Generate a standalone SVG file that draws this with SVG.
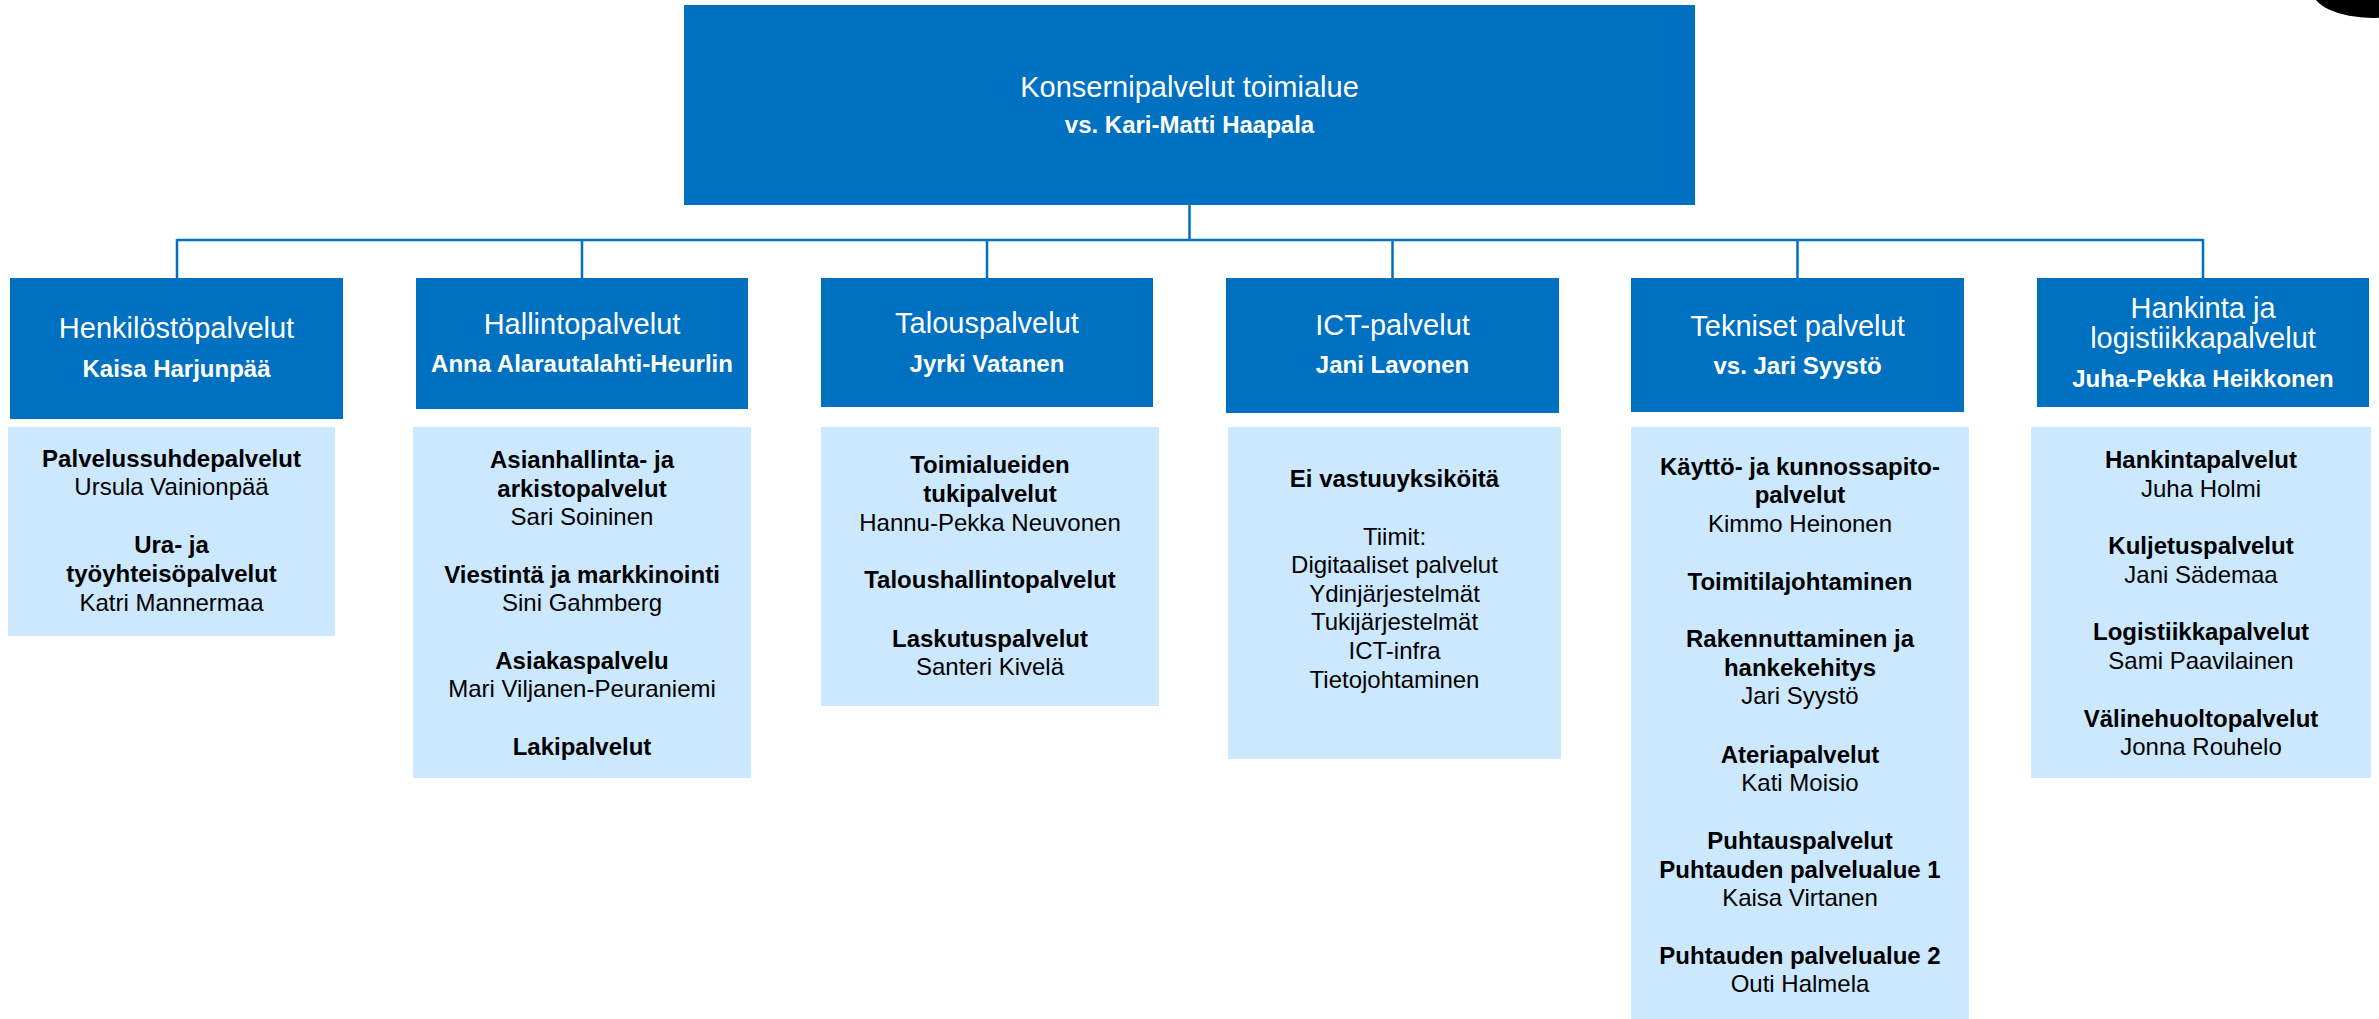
<svg xmlns="http://www.w3.org/2000/svg" width="2379" height="1019" viewBox="0 0 2379 1019">
<style>
text{font-family:"Liberation Sans",Arial,sans-serif;text-anchor:middle}
.dark{fill:#0070C0}
.light{fill:#CCE8FE}
.t{font-size:29px;fill:#fff}
.n{font-size:24px;font-weight:bold;fill:#fff}
.b{font-size:24px;font-weight:bold;fill:#000}
.r{font-size:24px;fill:#000}
.conn{stroke:#0070C0;stroke-width:2.5;fill:none}
</style>
<rect width="2379" height="1019" fill="#fff"/>
<ellipse cx="2372" cy="-10" rx="60" ry="28" fill="#000"/>
<g id="connectors">
<path class="conn" d="M1189.5 205V240M177 240H2203M177 239V278M582 239V278M987 239V278M1392.5 239V278M1797.5 239V278M2203 239V278"/>
</g>
<g id="top">
<rect class="dark" x="684" y="5" width="1011" height="200"/>
<text class="t" x="1189.5" y="97">Konsernipalvelut toimialue</text>
<text class="n" x="1189.5" y="133">vs. Kari-Matti Haapala</text>
</g>
<g id="henkilosto">
<rect class="dark" x="10" y="278" width="333" height="141"/>
<text class="t" x="176.5" y="338">Henkilöstöpalvelut</text>
<text class="n" x="176.5" y="377">Kaisa Harjunpää</text>
</g>
<g id="henkilosto-units">
<rect class="light" x="8" y="427" width="327" height="209"/>
<text x="171.5"><tspan class="b" x="171.5" y="467">Palvelussuhdepalvelut</tspan><tspan class="r" x="171.5" y="495">Ursula Vainionpää</tspan><tspan class="b" x="171.5" y="553">Ura- ja</tspan><tspan class="b" x="171.5" y="582">työyhteisöpalvelut</tspan><tspan class="r" x="171.5" y="611">Katri Mannermaa</tspan></text>
</g>
<g id="hallinto">
<rect class="dark" x="416" y="278" width="332" height="131"/>
<text class="t" x="582" y="334">Hallintopalvelut</text>
<text class="n" x="582" y="372">Anna Alarautalahti-Heurlin</text>
</g>
<g id="hallinto-units">
<rect class="light" x="413" y="427" width="338" height="351"/>
<text x="582"><tspan class="b" x="582" y="468">Asianhallinta- ja</tspan><tspan class="b" x="582" y="497">arkistopalvelut</tspan><tspan class="r" x="582" y="525">Sari Soininen</tspan><tspan class="b" x="582" y="583">Viestintä ja markkinointi</tspan><tspan class="r" x="582" y="611">Sini Gahmberg</tspan><tspan class="b" x="582" y="669">Asiakaspalvelu</tspan><tspan class="r" x="582" y="697">Mari Viljanen-Peuraniemi</tspan><tspan class="b" x="582" y="755">Lakipalvelut</tspan></text>
</g>
<g id="talous">
<rect class="dark" x="821" y="278" width="332" height="129"/>
<text class="t" x="987" y="333">Talouspalvelut</text>
<text class="n" x="987" y="372">Jyrki Vatanen</text>
</g>
<g id="talous-units">
<rect class="light" x="821" y="427" width="338" height="279"/>
<text x="990"><tspan class="b" x="990" y="473">Toimialueiden</tspan><tspan class="b" x="990" y="502">tukipalvelut</tspan><tspan class="r" x="990" y="531">Hannu-Pekka Neuvonen</tspan><tspan class="b" x="990" y="588">Taloushallintopalvelut</tspan><tspan class="b" x="990" y="647">Laskutuspalvelut</tspan><tspan class="r" x="990" y="675">Santeri Kivelä</tspan></text>
</g>
<g id="ict">
<rect class="dark" x="1226" y="278" width="333" height="135"/>
<text class="t" x="1392.5" y="335">ICT-palvelut</text>
<text class="n" x="1392.5" y="373">Jani Lavonen</text>
</g>
<g id="ict-units">
<rect class="light" x="1228" y="427" width="333" height="332"/>
<text x="1394.5"><tspan class="b" x="1394.5" y="487">Ei vastuuyksiköitä</tspan><tspan class="r" x="1394.5" y="545">Tiimit:</tspan><tspan class="r" x="1394.5" y="573">Digitaaliset palvelut</tspan><tspan class="r" x="1394.5" y="602">Ydinjärjestelmät</tspan><tspan class="r" x="1394.5" y="630">Tukijärjestelmät</tspan><tspan class="r" x="1394.5" y="659">ICT-infra</tspan><tspan class="r" x="1394.5" y="688">Tietojohtaminen</tspan></text>
</g>
<g id="tekniset">
<rect class="dark" x="1631" y="278" width="333" height="134"/>
<text class="t" x="1797.5" y="336">Tekniset palvelut</text>
<text class="n" x="1797.5" y="374">vs. Jari Syystö</text>
</g>
<g id="tekniset-units">
<rect class="light" x="1631" y="427" width="338" height="600"/>
<text x="1800"><tspan class="b" x="1800" y="475">Käyttö- ja kunnossapito-</tspan><tspan class="b" x="1800" y="503">palvelut</tspan><tspan class="r" x="1800" y="532">Kimmo Heinonen</tspan><tspan class="b" x="1800" y="590">Toimitilajohtaminen</tspan><tspan class="b" x="1800" y="647">Rakennuttaminen ja</tspan><tspan class="b" x="1800" y="676">hankekehitys</tspan><tspan class="r" x="1800" y="704">Jari Syystö</tspan><tspan class="b" x="1800" y="763">Ateriapalvelut</tspan><tspan class="r" x="1800" y="791">Kati Moisio</tspan><tspan class="b" x="1800" y="849">Puhtauspalvelut</tspan><tspan class="b" x="1800" y="878">Puhtauden palvelualue 1</tspan><tspan class="r" x="1800" y="906">Kaisa Virtanen</tspan><tspan class="b" x="1800" y="964">Puhtauden palvelualue 2</tspan><tspan class="r" x="1800" y="992">Outi Halmela</tspan></text>
</g>
<g id="hankinta">
<rect class="dark" x="2037" y="278" width="332" height="129"/>
<text class="t" x="2203" y="318">Hankinta ja</text>
<text class="t" x="2203" y="348">logistiikkapalvelut</text>
<text class="n" x="2203" y="387">Juha-Pekka Heikkonen</text>
</g>
<g id="hankinta-units">
<rect class="light" x="2031" y="427" width="340" height="351"/>
<text x="2201"><tspan class="b" x="2201" y="468">Hankintapalvelut</tspan><tspan class="r" x="2201" y="497">Juha Holmi</tspan><tspan class="b" x="2201" y="554">Kuljetuspalvelut</tspan><tspan class="r" x="2201" y="583">Jani Sädemaa</tspan><tspan class="b" x="2201" y="640">Logistiikkapalvelut</tspan><tspan class="r" x="2201" y="669">Sami Paavilainen</tspan><tspan class="b" x="2201" y="727">Välinehuoltopalvelut</tspan><tspan class="r" x="2201" y="755">Jonna Rouhelo</tspan></text>
</g>
</svg>
